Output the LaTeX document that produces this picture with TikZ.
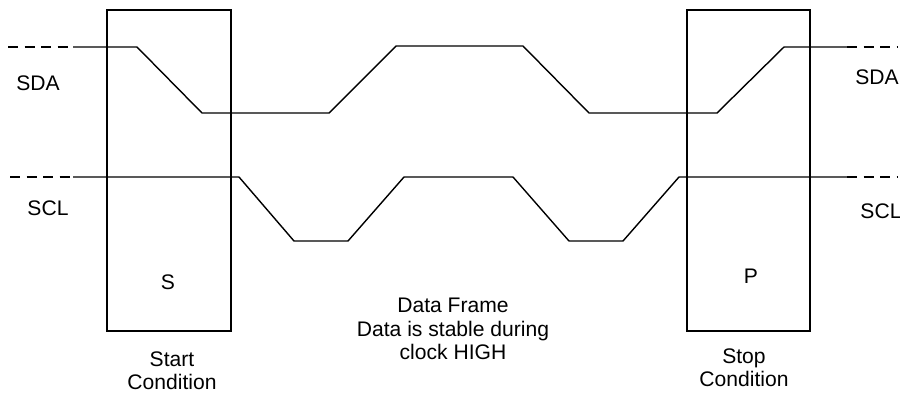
\documentclass[tikz,border=0pt]{standalone}
\usepackage{fontspec}
\setmainfont{Liberation Sans}
\usepackage{tikz}
\usetikzlibrary{positioning,calc}

\begin{document}
\begin{tikzpicture}[x=0.2mm, y=-0.2mm,
    wave/.style={line width=0.8pt},
    idle/.style={line width=0.8pt, dash pattern=on 2mm off 1.3mm},
    frame/.style={line width=0.9pt},
    lbl/.style={font=\fontsize{12}{13.3}\selectfont, align=center, inner sep=0pt}]
    \useasboundingbox (0,0) rectangle (900,397);

    % Start and stop windows
    \draw[frame] (107,10) rectangle (231,331);
    \draw[frame] (687,10) rectangle (810,331);

    % SDA
    \draw[idle] (8,47) -- (73,47);
    \draw[wave] (73,47) -- (137,47) -- (202,113) -- (329,113) -- (396,46) -- (523,46)
        -- (589,113) -- (717,113) -- (784,47) -- (847,47);
    \draw[idle] (847,47) -- (897,47);

    % SCL
    \draw[idle] (10,177) -- (73,177);
    \draw[wave] (73,177) -- (239,177) -- (294,241) -- (348,241) -- (404,177) -- (513,177)
        -- (569,241) -- (623,241) -- (679,177) -- (847,177);
    \draw[idle] (847,177) -- (897,177);

    % Labels
    \node[lbl] (sdaL) at (38,83) {SDA};
    \node[lbl] (sclL) at (48,208) {SCL};
    \node[lbl] (sdaR) at (877,77) {SDA};
    \node[lbl] (sclR) at (881,211) {SCL};
    \node[lbl] (start) at (168,282) {S};
    \node[lbl] (stop) at (751,276) {P};
    \node[lbl] (startTxt) at (172,371) {Start\\Condition};
    \node[lbl] (stopTxt) at (744,368) {Stop\\Condition};
    \node[lbl] (dataTxt) at (453,329) {Data Frame\\Data is stable during\\clock HIGH};
\end{tikzpicture}
\end{document}
